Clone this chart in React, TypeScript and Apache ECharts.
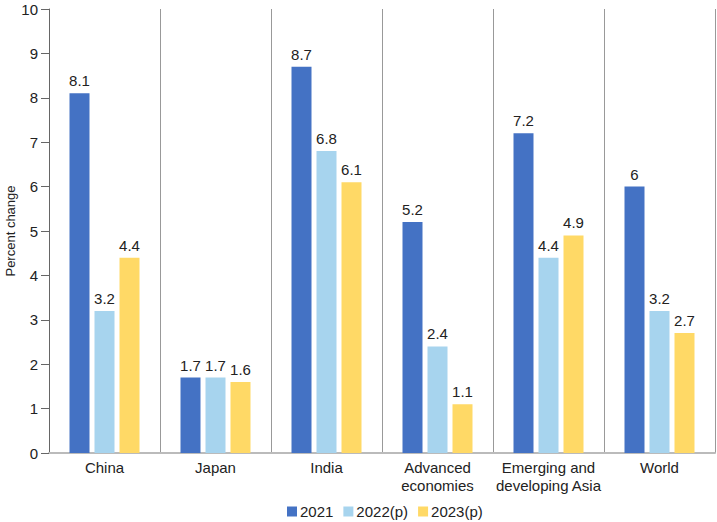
import React, { useEffect, useRef } from "react";
import * as echarts from "echarts";

const categories = ["China", "Japan", "India", "Advanced\neconomies", "Emerging and\ndeveloping Asia", "World"];
const seriesNames = ["2021", "2022(p)", "2023(p)"];
const values2021 = [8.1, 1.7, 8.7, 5.2, 7.2, 6];
const values2022 = [3.2, 1.7, 6.8, 2.4, 4.4, 3.2];
const values2023 = [4.4, 1.6, 6.1, 1.1, 4.9, 2.7];
const colors = ["#4472C4", "#A7D4EE", "#FFD966"];

const FONT = "Liberation Sans";

export default function App() {
  const ref = useRef<HTMLDivElement>(null);
  useEffect(() => {
    if (!ref.current) return;
    const chart = echarts.init(ref.current, null, { renderer: "svg" });
    const data = [values2021, values2022, values2023];
    chart.setOption({
      animation: false,
      textStyle: { fontFamily: FONT },
      grid: { left: 49, right: 2, top: 9, bottom: 69, containLabel: false, outerBoundsMode: "none" },
      legend: {
        top: 504,
        left: 287,
        padding: 0,
        itemWidth: 10,
        itemHeight: 10,
        itemGap: 10,
        icon: "rect",
        textStyle: { fontSize: 15, color: "#222", fontFamily: FONT, padding: [0, 0, 0, -2] },
        data: seriesNames,
      },
      xAxis: {
        type: "category",
        data: categories,
        axisLine: { show: true, lineStyle: { color: "#bbb", width: 2 } },
        axisTick: { show: false },
        splitLine: { show: true, lineStyle: { color: "#999", width: 1 } },
        axisLabel: { fontSize: 15, color: "#222", fontFamily: FONT, margin: 5, lineHeight: 18, interval: 0 },
      },
      yAxis: {
        type: "value",
        min: 0,
        max: 10,
        interval: 1,
        name: "Percent change",
        nameLocation: "middle",
        nameGap: 32,
        nameMoveOverlap: false,
        nameTextStyle: { fontSize: 13, color: "#222", fontFamily: FONT },
        axisLine: { show: true, lineStyle: { color: "#666", width: 1 } },
        axisTick: { show: true, length: 8, lineStyle: { color: "#666" } },
        splitLine: { show: false },
        axisLabel: { fontSize: 15, color: "#222", fontFamily: FONT, margin: 11 },
      },
      series: seriesNames.map((name, i) => ({
        name,
        type: "bar",
        data: data[i],
        barWidth: 20,
        barGap: "25%",
        itemStyle: { color: colors[i] },
        label: {
          show: true,
          position: "top",
          distance: 5,
          fontSize: 15,
          color: "#222",
          fontFamily: FONT,
        },
      })),
    });
    return () => chart.dispose();
  }, []);
  return <div ref={ref} style={{ position: "absolute", left: 0, top: 0, width: 717, height: 522 }} />;
}
